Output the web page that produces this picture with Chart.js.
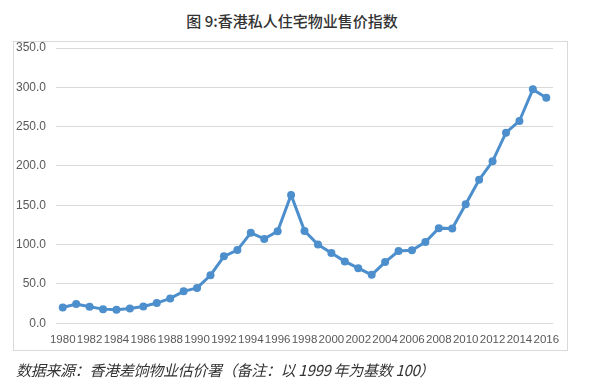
<!DOCTYPE html>
<html>
<head>
<meta charset="utf-8">
<script src="https://cdn.jsdelivr.net/npm/chart.js@4/dist/chart.umd.min.js"></script>
<style>
  html, body { margin: 0; padding: 0; background: #fff; }
  #wrap { position: relative; width: 598px; height: 389px; overflow: hidden; }
  #frame { position: absolute; left: 13px; top: 41px; width: 553px; height: 308px; border: 1px solid #d9d9d9; }
  #title { position: absolute; left: 0; width: 584px; top: 11px; text-align: center;
           font-family: "Noto Sans CJK SC", sans-serif; font-size: 15px; font-weight: 500; color: #333; line-height: 20px; }
  #note { position: absolute; left: 16px; top: 360px; font-family: "Noto Sans CJK SC", sans-serif;
          font-style: italic; font-size: 15px; color: #333; line-height: 20px; white-space: nowrap; letter-spacing: -0.3px; }
  #c { position: absolute; left: 0; top: 0; }
</style>
</head>
<body>
<div id="wrap">
  <div id="frame"></div>
  <div id="title">图 9:香港私人住宅物业售价指数</div>
  <canvas id="c" width="598" height="389"></canvas>
  <div id="note">数据来源：香港差饷物业估价署（备注：以 1999 年为基数 100）</div>
</div>
<script>
const years = [1980,1981,1982,1983,1984,1985,1986,1987,1988,1989,1990,1991,1992,1993,1994,1995,1996,1997,1998,1999,2000,2001,2002,2003,2004,2005,2006,2007,2008,2009,2010,2011,2012,2013,2014,2015,2016];
const priceIndex = [20.0,24.3,20.9,17.9,17.0,18.7,21.3,25.6,31.5,40.5,44.9,61.0,85.0,93.0,114.9,107.2,117.0,163.2,117.4,100.0,89.2,78.6,70.0,61.5,77.7,91.8,92.7,103.3,120.9,120.5,151.3,182.4,205.9,242.3,257.2,297.4,286.7];
const yTicks = [0,50,100,150,200,250,300,350];

new Chart(document.getElementById('c'), {
  type: 'line',
  data: {
    labels: years.map(String),
    datasets: [{
      data: priceIndex,
      borderColor: '#4d8fcc',
      backgroundColor: '#4d8fcc',
      borderWidth: 3,
      pointRadius: 4,
      pointBorderWidth: 0,
      pointBackgroundColor: '#4d8fcc',
      tension: 0
    }]
  },
  options: {
    responsive: false,
    animation: false,
    layout: { padding: { left: 6, right: 45, top: 48, bottom: 32 } },
    plugins: { legend: { display: false }, title: { display: false }, tooltip: { enabled: false } },
    scales: {
      x: {
        offset: true,
        grid: { display: false, drawTicks: false },
        border: { display: false },
        ticks: {
          autoSkip: false, maxRotation: 0, minRotation: 0, padding: 10,
          color: '#595959', font: { family: 'Liberation Sans', size: 11.5 },
          callback: function(v, i) { return years[i] % 2 === 0 ? String(years[i]) : ''; }
        }
      },
      y: {
        min: 0, max: 350,
        afterBuildTicks: function(axis) { axis.ticks = yTicks.map(v => ({ value: v })); },
        grid: { color: '#d9d9d9', lineWidth: 1, drawTicks: false },
        border: { display: false },
        ticks: {
          padding: 10, color: '#595959', font: { family: 'Liberation Sans', size: 12 },
          callback: function(v) { return Number(v).toFixed(1); }
        }
      }
    }
  }
});
</script>
</body>
</html>
